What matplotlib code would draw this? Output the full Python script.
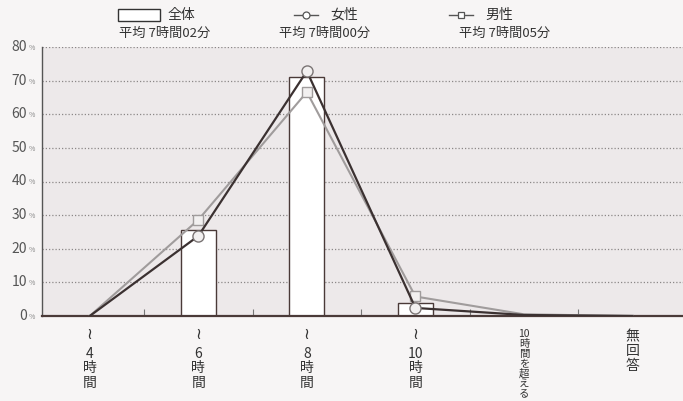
import matplotlib
matplotlib.use('Agg')
import matplotlib.pyplot as plt
import numpy as np
from matplotlib.lines import Line2D
from matplotlib.patches import Rectangle

plt.rcParams['font.family'] = ['Noto Sans CJK JP', 'DejaVu Sans']

# data (%)
categories = ['≀\n4\n時\n間', '≀\n6\n時\n間', '≀\n8\n時\n間', '≀\n10\n時\n間',
              '10\n時\n間\nを\n超\nえ\nる', '無\n回\n答']
total = [0.0, 25.5, 71.0, 4.0, 0.3, 0.0]
female = [0.0, 23.8, 72.8, 2.4, 0.3, 0.0]
male = [0.0, 28.6, 66.6, 5.8, 0.5, 0.0]
yticks = [0, 10, 20, 30, 40, 50, 60, 70, 80]

legend_names = ['全体', '女性', '男性']
legend_avgs = ['平均 7時間02分', '平均 7時間00分', '平均 7時間05分']

bg = '#ede9ea'
dark = '#3b3131'
gray = '#a09c9c'

W, H = 683, 401
fig = plt.figure(figsize=(6.83, 4.01), dpi=100, facecolor='#f7f5f5')
ax = fig.add_axes([42 / W, 1 - 316 / H, 641 / W, 269 / H])
ax.set_facecolor(bg)

x = np.arange(len(categories))
ax.bar(x, total, width=0.32, color='white', edgecolor='#4a3a38', linewidth=1.0, zorder=2)
ax.plot(x, male, color=gray, lw=1.5, marker='s', ms=7, mfc='#f2f0f0', mec=gray,
        mew=1.0, markevery=[1, 2, 3], zorder=3)
ax.plot(x, female, color=dark, lw=1.6, marker='o', ms=8, mfc='#f2f0f0', mec='#7a7474',
        mew=1.0, markevery=[1, 2, 3], zorder=4)

ax.set_xlim(-0.44, 5.465)
ax.set_ylim(0, 80)
for y in yticks[1:]:
    ax.axhline(y, color='#8c8888', lw=0.9, ls=(0, (1, 1.6)), zorder=1)

for s in ['top', 'right']:
    ax.spines[s].set_visible(False)
ax.spines['left'].set_color('#555')
ax.spines['left'].set_linewidth(1.0)
ax.spines['bottom'].set_color('#4a3a38')
ax.spines['bottom'].set_linewidth(1.6)

ax.set_xticks(x)
ax.set_xticklabels([])
ax.tick_params(axis='x', which='major', length=0)
ax.set_xticks(x[:-1] + 0.5, minor=True)
ax.tick_params(axis='x', which='minor', direction='in', length=5, color='#777', width=0.8)
ax.set_yticks(yticks)
ax.set_yticklabels([])
ax.tick_params(axis='y', which='both', length=0, left=False)

# y labels: number + small %
for y in yticks:
    py = 316 - y * (269 / 80)
    fig.text(27 / W, 1 - py / H, f'{y}', ha='right', va='center',
             fontsize=10, color='#555')
    fig.text(29 / W, 1 - (py + 1) / H, '%', ha='left', va='center',
             fontsize=5, color='#888')

# vertical category labels (the wave sign drawn a bit larger)
for xi, lab in zip(x, categories):
    if lab.startswith('≀'):
        ax.text(xi, -3.0, '≀', ha='center', va='top', fontsize=11.5, color='#333',
                clip_on=False)
        ax.text(xi, -9.2, lab[2:], ha='center', va='top', fontsize=10, color='#333',
                linespacing=1.05, clip_on=False)
    elif xi == 4:
        ax.text(xi, -4.0, lab, ha='center', va='top', fontsize=7.5, color='#333',
                linespacing=0.98, clip_on=False)
    else:
        ax.text(xi, -4.0, lab, ha='center', va='top', fontsize=10, color='#333',
                linespacing=1.05, clip_on=False)

# legend at top
leg_x = [165 / W, 325 / W, 505 / W]
row1 = 1 - 15 / H
row2 = 1 - 33 / H
fig.add_artist(Rectangle((118 / W, row1 - 0.016), 42 / W, 0.030,
                         transform=fig.transFigure, facecolor='white',
                         edgecolor='#333', lw=1.0))
fig.text(168 / W, row1, legend_names[0], ha='left', va='center', fontsize=10, color='#333')
fig.add_artist(Line2D([294 / W, 318 / W], [row1, row1], transform=fig.transFigure,
                      color='#555', lw=1.0))
fig.add_artist(Line2D([306 / W], [row1], transform=fig.transFigure, marker='o', ms=5,
                      mfc='white', mec='#555', mew=0.9, ls='none'))
fig.text(330 / W, row1, legend_names[1], ha='left', va='center', fontsize=10, color='#333')
fig.add_artist(Line2D([449 / W, 473 / W], [row1, row1], transform=fig.transFigure,
                      color='#555', lw=1.0))
fig.add_artist(Line2D([461 / W], [row1], transform=fig.transFigure, marker='s', ms=5,
                      mfc='white', mec='#555', mew=0.9, ls='none'))
fig.text(485 / W, row1, legend_names[2], ha='left', va='center', fontsize=10, color='#333')
for lx, txt in zip(leg_x, legend_avgs):
    fig.text(lx, row2, txt, ha='center', va='center', fontsize=9.5, color='#333')

plt.savefig('out.png', dpi=100, facecolor=fig.get_facecolor())
